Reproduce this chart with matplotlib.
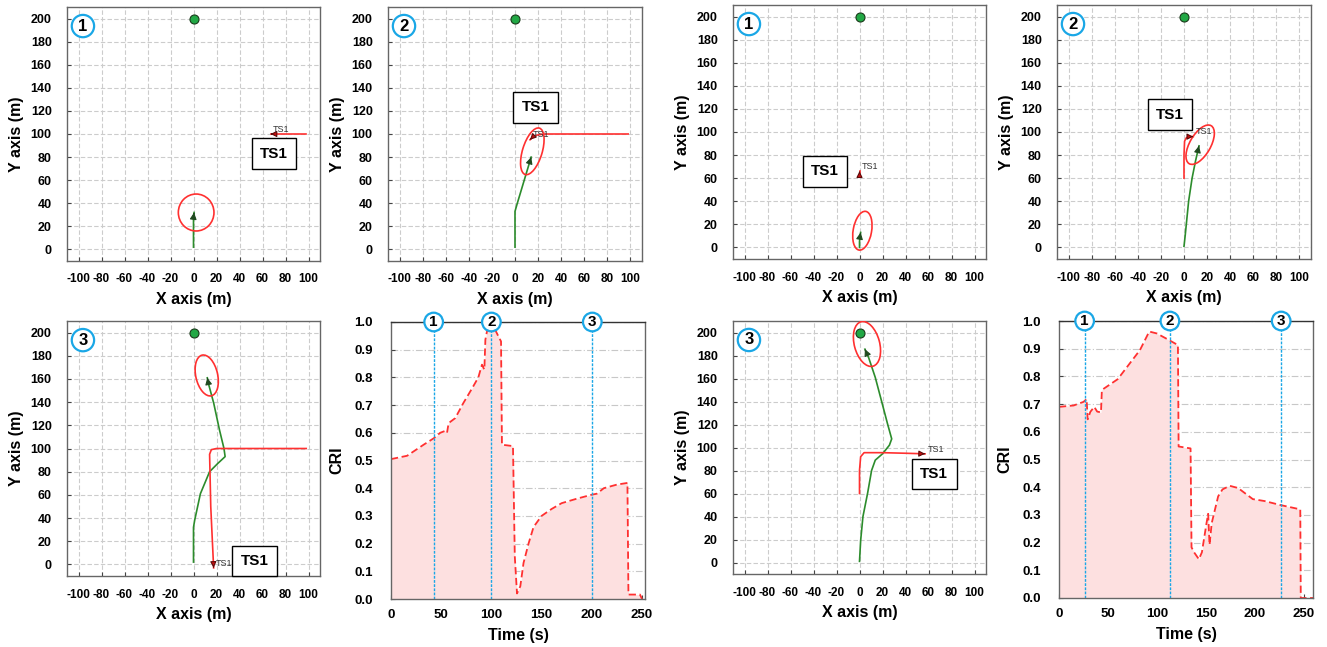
import matplotlib
matplotlib.use('Agg')
import matplotlib.pyplot as plt
from matplotlib.patches import Ellipse
import math

plt.rcParams['font.family'] = ['Liberation Sans', 'DejaVu Sans']
plt.rcParams['font.weight'] = 'bold'
plt.rcParams['axes.unicode_minus'] = False

# ---------------- data ----------------
goal = (0, 200)

# left scenario, snapshot 1/2/3 : own ship track, TS1 track, ship domain (cx, cy, w, h, angle), label box
left_own1_x = [0, 0, 0, 0.5]
left_own1_y = [2, 15, 28, 32]
left_ts1_x = [98, 80, 70, 67]
left_ts1_y = [100, 100, 100, 100]
left_dom1 = (2.3, 32, 31, 32, 0)
left_box1 = (70, 83)

left_own2_x = [0, 0, 0, 2, 5, 8, 11, 14]
left_own2_y = [2, 20, 33, 40, 50, 60, 70, 80]
left_ts2_x = [98, 60, 25, 19, 15, 13]
left_ts2_y = [100, 100, 100, 99, 97, 95]
left_dom2 = (15, 85, 17, 42, -17)
left_box2 = (18, 123)

left_own3_x = [0, 0, 1, 6, 14, 21, 27.5, 26.5, 22.6, 17.6, 13, 12]
left_own3_y = [2, 32, 38, 61, 80, 87, 93, 100, 116, 139, 156, 161]
left_ts3_x = [98, 60, 20, 15.5, 14, 15, 17.5]
left_ts3_y = [100, 100, 100, 99, 95, 50, -3]
left_dom3 = (11.5, 163, 19, 36, 13)
left_box3 = (53, 3)

# right scenario
right_own1_x = [0, 0, 0.5, 1]
right_own1_y = [0, 5, 10, 13]
right_ts1_x = [0, 0, 0]
right_ts1_y = [61, 63, 66]
right_dom1 = (2.5, 14.5, 16, 34, -10)
right_box1 = (-30, 66)

right_own2_x = [0, 1, 2, 4, 7, 10, 13]
right_own2_y = [1, 10, 20, 40, 60, 75, 88]
right_ts2_x = [0, 0, 0.5, 2, 5, 8]
right_ts2_y = [60, 80, 92, 95, 96, 96]
right_dom2 = (14, 89, 18, 38, -30)
right_box2 = (-12, 115)

right_own3_x = [0, 1, 3, 7, 10.5, 13.7, 20, 26, 28, 24.4, 19, 13.7, 8, 4.7]
right_own3_y = [1, 19, 40, 60, 80, 89, 94.5, 102, 107.5, 120.5, 141, 161, 178, 185.5]
right_ts3_x = [0, 0, 1, 4, 20, 40, 57]
right_ts3_y = [60, 80, 92, 95.5, 95.5, 95, 94.5]
right_dom3 = (6.5, 190, 22, 40, 15)
right_box3 = (65, 77)

# CRI time series
t_left = [0, 16, 32.5, 42.5, 49, 54, 55.8, 57.4, 64, 72, 80.7, 87, 90.6, 93, 94, 95.6,
          100, 104, 107, 109.6, 110.5, 121.5, 123.3, 125.5, 128.8, 132, 137, 142, 150,
          160, 170, 185, 200.5, 205, 212, 225, 235.5, 236.5, 248, 250]
cri_left = [0.505, 0.517, 0.557, 0.58, 0.60, 0.607, 0.60, 0.635, 0.653, 0.707, 0.76, 0.80,
            0.846, 0.828, 0.936, 0.966, 0.975, 0.97, 0.948, 0.93, 0.557, 0.552, 0.154, 0.02,
            0.046, 0.13, 0.2, 0.26, 0.30, 0.325, 0.346, 0.362, 0.377, 0.38, 0.40, 0.413,
            0.419, 0.016, 0.016, 0.0]
marks_left = [42.5, 100, 200.5]

t_right = [0, 15, 25, 28.2, 29.3, 32, 36, 39, 42.9, 43.8, 60, 82.7, 92.2, 100, 113, 121.5,
           122.2, 134.4, 135.4, 138, 142.9, 146, 150.7, 152.4, 153.8, 156, 162.6, 167, 174.5,
           183, 198, 210, 227, 246.5, 247, 259.5]
cri_right = [0.69, 0.695, 0.708, 0.718, 0.645, 0.672, 0.69, 0.673, 0.67, 0.751, 0.79, 0.895,
             0.962, 0.955, 0.93, 0.913, 0.547, 0.54, 0.183, 0.165, 0.14, 0.165, 0.27, 0.304,
             0.192, 0.27, 0.367, 0.392, 0.405, 0.397, 0.357, 0.35, 0.335, 0.32, 0.0, 0.0]
marks_right = [26.2, 113.3, 227]

W, H = 1327, 647
CYAN = '#1aa7e6'
GREEN = '#2c8c2c'
RED = '#ff3030'


def px_axes(fig, left, top, right, bottom):
    return fig.add_axes([left / W, 1 - bottom / H, (right - left) / W, (bottom - top) / H])


def style_axes(ax, xpad, ypad, xsize, ysize):
    for s in ax.spines.values():
        s.set_color('#666666')
        s.set_linewidth(1.0)
    ax.tick_params(direction='in', length=3, width=0.8, color='#444444')
    ax.tick_params(axis='x', pad=xpad, labelsize=xsize)
    ax.tick_params(axis='y', pad=ypad, labelsize=ysize)


def arrow_head(ax, xs, ys, fc, ec, size):
    # head only: short segment pointing along the last leg of the track
    dx, dy = xs[-1] - xs[-2], ys[-1] - ys[-2]
    d = math.hypot(dx, dy)
    back = (xs[-1] - dx / d * 1.0, ys[-1] - dy / d * 1.0)
    ax.annotate('', xy=(xs[-1], ys[-1]), xytext=back,
                arrowprops=dict(arrowstyle='-|>', fc=fc, ec=ec, lw=0.8,
                                mutation_scale=size, shrinkA=0, shrinkB=0), zorder=4)


def draw_track(ax, num, own_x, own_y, ts_x, ts_y, dom, box):
    ax.set_xlim(-110, 110)
    ax.set_ylim(-10, 210)
    ax.set_xticks(range(-100, 101, 20))
    ax.set_yticks(range(0, 201, 20))
    ax.grid(True, color='#cccccc', linestyle=(0, (4, 2)), linewidth=0.8)
    ax.set_axisbelow(True)
    style_axes(ax, 9, 11, 8.5, 9)
    ax.set_xlabel('X axis (m)', fontsize=11.5, fontweight='bold', labelpad=5)
    ax.set_ylabel('Y axis (m)', fontsize=11.5, fontweight='bold', labelpad=5)

    ax.plot(goal[0], goal[1], 'o', color='#22a845', mec='#1a3a1a', ms=6.5, mew=0.8, zorder=5)

    ax.plot(own_x, own_y, color=GREEN, lw=1.2, zorder=3)
    arrow_head(ax, own_x, own_y, '#1f4a1f', '#1f4a1f', 10)

    ax.plot(ts_x, ts_y, color=RED, lw=1.2, zorder=3)
    arrow_head(ax, ts_x, ts_y, '#c81010', '#5a0a0a', 9)
    ax.text(ts_x[-1] + 2, ts_y[-1] + 2, 'TS1', fontsize=6.5, fontweight='normal',
            color='#333333', zorder=5)

    cx, cy, w, h, ang = dom
    ax.add_patch(Ellipse((cx, cy), w, h, angle=ang, fill=False, ec=RED, lw=1.2, zorder=3))

    ax.text(box[0], box[1], 'TS1', fontsize=11, fontweight='bold', ha='center', va='center',
            bbox=dict(boxstyle='square,pad=0.55', fc='white', ec='black', lw=1.0), zorder=6)

    ax.text(0.063, 0.925, str(num), transform=ax.transAxes, fontsize=12, fontweight='bold',
            ha='center', va='center',
            bbox=dict(boxstyle='circle,pad=0.22', fc='white', ec=CYAN, lw=1.6), zorder=7)


def draw_cri(ax, t, cri, marks, xmax):
    ax.fill_between(t, cri, 0, color='#fde0e0', lw=0)
    ax.plot(t, cri, color=RED, lw=1.3, linestyle=(0, (4, 2)))
    ax.set_xlim(0, xmax)
    ax.set_ylim(0, 1.0)
    ax.set_xticks(range(0, 251, 50))
    ax.set_yticks([i / 10 for i in range(11)])
    ax.set_yticklabels(['%.1f' % (i / 10) for i in range(11)])
    ax.grid(True, axis='y', color='#c8c8c8', linestyle=(0, (6, 2, 1, 2)), linewidth=0.8)
    ax.set_axisbelow(True)
    style_axes(ax, 7, 13, 9.5, 9.5)
    ax.spines['top'].set_color('#333333')
    ax.set_xlabel('Time (s)', fontsize=11.5, fontweight='bold', labelpad=5)
    ax.set_ylabel('CRI', fontsize=11.5, fontweight='bold', labelpad=7)
    tr = ax.get_xaxis_transform()
    for i, m in enumerate(marks):
        ax.axvline(m, color=CYAN, linestyle=(0, (2, 1)), lw=1.0)
        ax.text(m, 1.0, str(i + 1), transform=tr, fontsize=11, fontweight='bold',
                ha='center', va='center', clip_on=False,
                bbox=dict(boxstyle='circle,pad=0.15', fc='white', ec=CYAN, lw=1.6), zorder=7)


fig = plt.figure(figsize=(W / 100, H / 100), dpi=100)

a1 = px_axes(fig, 67, 7, 320, 261)
a2 = px_axes(fig, 388, 7, 642, 261)
a3 = px_axes(fig, 67, 321, 320, 576)
a4 = px_axes(fig, 391, 322, 645, 599)
b1 = px_axes(fig, 733, 5, 986, 259)
b2 = px_axes(fig, 1057, 5, 1311, 259)
b3 = px_axes(fig, 733, 321, 986, 574)
b4 = px_axes(fig, 1059, 321, 1313, 598)

draw_track(a1, 1, left_own1_x, left_own1_y, left_ts1_x, left_ts1_y, left_dom1, left_box1)
draw_track(a2, 2, left_own2_x, left_own2_y, left_ts2_x, left_ts2_y, left_dom2, left_box2)
draw_track(a3, 3, left_own3_x, left_own3_y, left_ts3_x, left_ts3_y, left_dom3, left_box3)
draw_cri(a4, t_left, cri_left, marks_left, 253)

draw_track(b1, 1, right_own1_x, right_own1_y, right_ts1_x, right_ts1_y, right_dom1, right_box1)
draw_track(b2, 2, right_own2_x, right_own2_y, right_ts2_x, right_ts2_y, right_dom2, right_box2)
draw_track(b3, 3, right_own3_x, right_own3_y, right_ts3_x, right_ts3_y, right_dom3, right_box3)
draw_cri(b4, t_right, cri_right, marks_right, 259.5)

fig.savefig('out.png', dpi=100)
